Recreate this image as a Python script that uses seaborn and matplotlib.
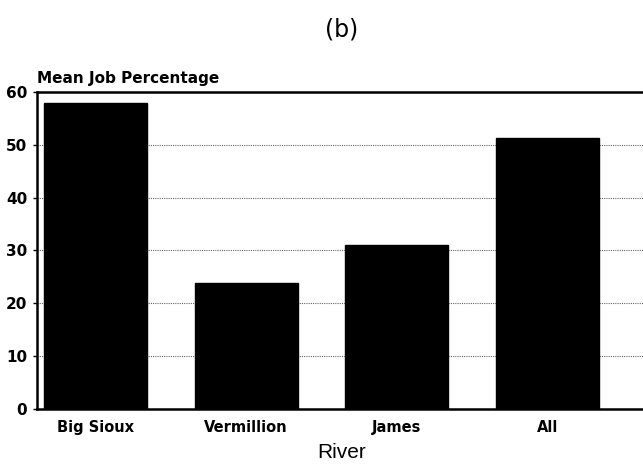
import matplotlib
matplotlib.use("Agg")
import matplotlib.pyplot as plt
import pandas as pd
import seaborn as sns

# Mean job percentage by river basin
rivers = ["Big Sioux", "Vermillion", "James", "All"]
mean_job_pct = [58.0, 23.8, 31.0, 51.3]
y_ticks = [0, 10, 20, 30, 40, 50, 60]

df = pd.DataFrame({"River": rivers, "Pct": mean_job_pct})

sns.set_style("white")
plt.rcParams["font.family"] = ["DejaVu Sans"]
plt.rcParams["text.color"] = "black"
plt.rcParams["xtick.color"] = "black"
plt.rcParams["ytick.color"] = "black"
plt.rcParams["axes.labelcolor"] = "black"

fig = plt.figure(figsize=(6.43, 4.67), dpi=100)
ax = fig.add_axes([37 / 643, 58 / 467, 623 / 643, 317 / 467])

sns.barplot(data=df, x="River", y="Pct", order=rivers, color="black",
            width=0.684, saturation=1, edgecolor="black", ax=ax, zorder=3)

ax.set_ylim(0, 60)
ax.set_xlim(-0.389, 3.748)
ax.set_yticks(y_ticks)
ax.yaxis.grid(True, linestyle=(0, (1, 1)), color="#666666", linewidth=0.8, zorder=0)
ax.set_axisbelow(True)

for side in ["left", "bottom", "top"]:
    ax.spines[side].set_visible(True)
    ax.spines[side].set_color("black")
    ax.spines[side].set_linewidth(1.8)
ax.spines["right"].set_visible(False)

ax.tick_params(axis="y", length=3, width=1, left=True, pad=4)
ax.tick_params(axis="x", length=0, pad=8)
for lab in ax.get_yticklabels():
    lab.set_fontweight("bold")
    lab.set_fontsize(11)
for lab in ax.get_xticklabels():
    lab.set_fontweight("bold")
    lab.set_fontsize(10.5)

ax.set_ylabel("")
ax.set_xlabel("")

fig.text(342 / 643, 1 - 452 / 467, "River", fontsize=15,
         family="Liberation Sans", ha="center", va="center")
fig.text(37 / 643, 1 - 83 / 467, "Mean Job Percentage", fontsize=11,
         fontweight="bold", ha="left", va="baseline")
fig.text(342 / 643, 1 - 30 / 467, "(b)", fontsize=17,
         ha="center", va="center")

fig.savefig("out.png", dpi=100)
